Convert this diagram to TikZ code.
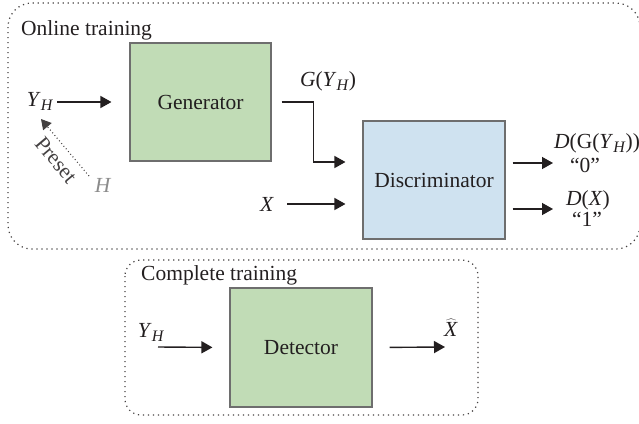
\documentclass[tikz,border=0pt]{standalone}
\usepackage{fontspec}
\setmainfont{Liberation Serif}
\usetikzlibrary{arrows.meta,calc}
\definecolor{boxgreen}{HTML}{C1DCB6}
\definecolor{boxblue}{HTML}{CFE2F0}
\definecolor{boxedge}{HTML}{6E6E6E}
\definecolor{ink}{HTML}{231F20}
\definecolor{hgray}{HTML}{8C8C8C}
\newcommand{\ssub}[1]{\raisebox{-4pt}{\fontsize{16}{16}\selectfont\textit{#1}}}
\tikzset{
  block/.style={draw=boxedge, line width=1.1pt, minimum width=141pt, minimum height=118pt, inner sep=0pt, text=ink},
  arr/.style={draw=ink, line width=1.4pt, -{Triangle[length=11pt,width=12pt]}},
  dotbox/.style={draw=ink!85, line width=1.2pt, dash pattern=on 1.2pt off 3.8pt},
  lbl/.style={inner sep=0pt, text=ink, anchor=base},
}
\begin{document}
\begin{tikzpicture}[x=1pt,y=-1pt, font=\fontsize{21.5}{23}\selectfont]
\useasboundingbox (0,0) rectangle (639,423);
% frames
\draw[dotbox, rounded corners=24pt] (8,3) rectangle (640,249);
\draw[dotbox, rounded corners=16pt] (125,260) rectangle (478,415);
\node[lbl, anchor=base west] (online) at (21,35) {Online training};
\node[lbl, anchor=base west] (complete) at (141,280) {Complete training};
% blocks
\node[block, fill=boxgreen] (gen) at (200.5,102) {Generator};
\node[block, fill=boxblue, minimum width=142pt] (disc) at (434,180) {Discriminator};
\node[block, fill=boxgreen, minimum width=142pt, minimum height=119pt] (det) at (301,347.5) {Detector};
% online inputs
\node[lbl] (yh1) at (40,106) {\textit{Y}\ssub{H}};
\coordinate (yh1out) at (57,102);
\draw[arr, shorten >=18pt] (yh1out) -- (gen.west);
\node[lbl] (gy) at (328,86) {\textit{G}(\textit{Y}\ssub{H})};
\coordinate (din1) at ([yshift=18pt]disc.west);
\draw[arr, shorten <=10pt, shorten >=17pt] (gen.east) -- ++(42,0) |- (din1);
\node[lbl] (x) at (267,211) {\textit{X}};
\coordinate (xout) at (287,204);
\coordinate (din2) at ([yshift=-24pt]disc.west);
\draw[arr, shorten >=17pt] (xout) -- (din2);
% preset
\node[lbl, text=hgray] (h) at (103,192) {\textit{H}};
\coordinate (ptail) at (89,176);
\coordinate (ptip) at (41,119);
\draw[draw=ink!85, line width=1.1pt, dash pattern=on 0.9pt off 2.6pt, -{Triangle[length=10pt,width=11pt]}] (ptail) -- (ptip);
\node[inner sep=0pt, text=ink!85, rotate=-50] (preset) at (56,160) {Preset};
% outputs
\coordinate (o1) at (553,163);
\coordinate (o2) at (553,209);
\draw[arr, shorten <=7pt] ([yshift=17pt]disc.east) -- (o1);
\draw[arr, shorten <=7pt] ([yshift=-29pt]disc.east) -- (o2);
\node[lbl] (dg) at (597,148) {\textit{D}(G(\textit{Y}\ssub{H}))};
\node[lbl] (z0) at (585,172) {“0”};
\node[lbl] (dx) at (588,205) {\textit{D}(\textit{X})};
\node[lbl] (z1) at (587,226) {“1”};
% complete training
\node[lbl] (yh2) at (151,337) {\textit{Y}\ssub{H}};
\coordinate (yh2out) at (158,347);
\draw[arr, shorten >=17pt] (yh2out) -- (det.west);
\coordinate (xhin) at (445,347);
\draw[arr, shorten <=17pt] (det.east) -- (xhin);
\node[lbl] (xhat) at (451,336) {$\widehat{\mbox{\textit{X}}}$};
\end{tikzpicture}
\end{document}
